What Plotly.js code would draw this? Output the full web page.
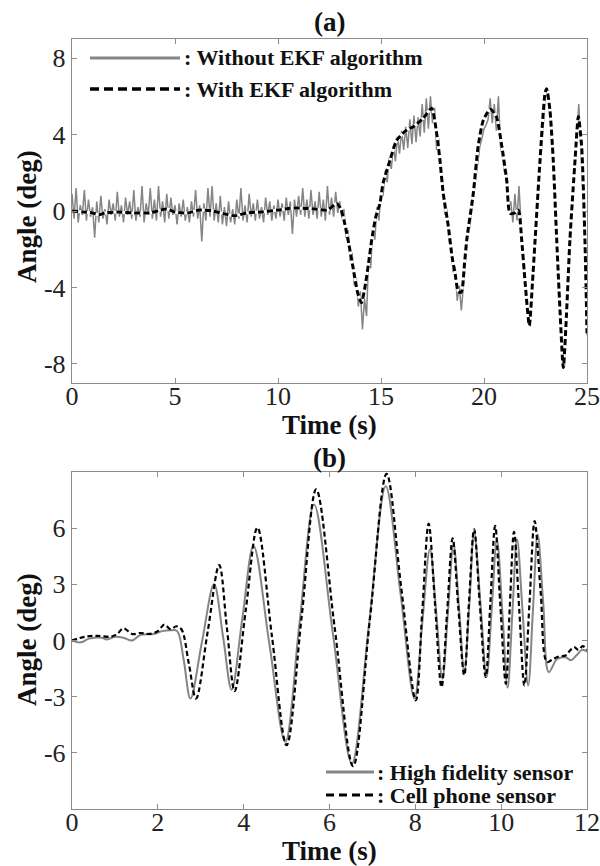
<!DOCTYPE html>
<html>
<head>
<meta charset="utf-8">
<script src="https://cdn.plot.ly/plotly-3.0.1.min.js"></script>
<style>html,body{margin:0;padding:0;background:#fff;}#chart{width:600px;height:866px;}</style>
</head>
<body>
<div id="chart"></div>
<script>
// ---------- Panel (a) data ----------
// raw angle without EKF, sampled every 0.1 s from 0 to 25 s
const aRawV = [
 0.9,-0.4,1.2,-0.6,0.3,-0.2,1.1,-0.5,0.6,-0.3,
 0.2,-1.4,0.5,-0.6,0.8,-0.4,0.1,-0.7,0.6,-0.2,
 0.4,-0.5,1.0,-0.3,0.3,-0.6,0.7,-0.2,0.5,-0.4,
 1.1,-0.5,0.2,-0.3,1.3,-0.6,0.4,-0.2,1.2,-0.4,
 0.6,-0.5,1.3,-0.3,0.5,-0.6,0.9,-0.4,0.7,-0.2,
 0.3,-0.7,0.4,-0.3,0.6,-0.5,0.2,-0.6,0.5,-0.3,
 1.1,-0.4,0.3,-1.6,0.4,-0.5,1.2,-0.3,1.3,-0.5,
 0.4,-0.6,0.8,-0.7,0.2,-0.8,0.5,-0.6,0.1,-0.7,
 0.6,-0.4,1.2,-0.5,0.3,-0.6,0.9,-0.3,0.4,-0.5,
 0.6,-0.4,0.2,-0.6,0.7,-0.2,0.5,-0.5,0.3,-0.4,
 0.6,-0.3,0.4,-0.5,0.7,-0.2,0.5,-1.2,0.6,-0.3,
 0.8,-0.2,1.2,-0.3,0.6,-0.4,1.1,-0.2,0.5,-0.4,
 1.0,-0.3,0.6,-0.5,1.3,-0.2,0.7,-0.3,1.0,-0.1,
 0.5,-0.4,0.1,-1.4,-1.0,-2.6,-2.2,-3.9,-3.5,-5.0,
 -4.2,-6.2,-4.6,-5.5,-2.3,-3.0,-0.9,-1.5,0.2,-0.5,
 1.1,0.8,2.1,1.5,2.8,2.2,3.4,2.6,3.9,3.0,
 4.2,3.2,4.4,3.3,4.8,3.5,5.0,3.6,4.9,3.9,
 5.6,4.1,5.9,4.3,6.0,4.6,5.4,3.2,3.8,1.9,
 1.5,-0.2,0.1,-1.6,-1.7,-3.2,-2.9,-4.7,-3.9,-5.2,
 -3.9,-2.6,-1.4,-0.9,0.0,0.6,1.7,2.5,3.4,3.8,
 4.3,4.5,4.8,5.9,4.6,5.6,4.2,6.0,3.4,2.8,
 2.0,1.9,0.2,0.5,-0.6,0.9,-0.5,1.3,-0.8,-2.8,
 -3.5,-5.3,-5.8,-5.0,-3.1,-1.3,0.3,2.0,3.4,5.0,
 6.2,6.1,5.0,3.4,1.8,-0.9,-3.3,-5.2,-7.4,-8.2,
 -5.9,-3.2,-1.4,0.5,2.0,3.8,5.6,3.6,1.0,-1.6,
 -6.5
];
const aEkfT = [0,0.5,1.0,1.3,1.6,2.2,3.0,3.8,4.3,4.6,5.0,5.6,6.2,6.8,7.4,7.9,8.5,9.2,10.0,10.6,
 11.2,11.8,12.4,12.85,13.05,13.25,13.45,13.65,13.85,14.05,14.25,14.4,14.55,14.75,14.95,15.1,15.44,15.76,16.25,16.57,
 17.05,17.46,17.7,17.86,18.02,18.27,18.45,18.6,18.75,18.9,19.05,19.16,19.48,19.72,19.97,20.3,20.6,20.86,21.1,21.26,
 21.5,21.67,21.83,22.0,22.2,22.35,22.48,22.72,22.96,23.04,23.2,23.36,23.53,23.68,23.85,24.0,24.17,24.42,24.58,24.74,
 24.9,25.0];
const aEkfV = [0,-0.05,-0.1,-0.2,-0.1,-0.05,-0.1,-0.1,0.05,0.1,-0.05,-0.1,0.05,0.0,-0.15,-0.25,-0.1,-0.05,0.05,0.15,
 0.15,0.1,0.05,0.4,0.1,-0.7,-1.8,-3.0,-4.2,-4.8,-3.8,-2.7,-1.5,-0.3,0.4,1.45,2.67,3.7,4.24,4.41,
 4.85,5.38,4.07,2.67,0.93,-0.82,-2.4,-3.3,-4.2,-4.25,-2.8,-1.52,0.93,3.42,4.76,5.32,4.94,3.42,1.62,-0.12,
 -0.1,0.05,-1.52,-3.8,-6.0,-3.8,-1.52,2.67,6.14,6.4,5.29,2.67,-1.52,-5.0,-8.2,-5.5,-1.52,2.67,4.94,3.4,
 -1.52,-6.4];
const aXTicks = [0,5,10,15,20,25];
const aYTicks = [-8,-4,0,4,8];
const aYTickText = ['-8','-4','0','4','8'];

// ---------- Panel (b) data ----------
const bHfT = [0,0.2,0.4,0.7,0.8,1.0,1.2,1.4,1.6,1.9,2.1,2.3,2.45,2.6,2.76,3.03,3.31,3.52,3.72,3.97,
 4.23,4.6,4.97,5.3,5.64,6.08,6.52,6.92,7.31,7.65,7.98,8.16,8.34,8.49,8.63,8.76,8.89,9.02,9.14,9.26,
 9.37,9.52,9.66,9.78,9.9,10.03,10.15,10.26,10.37,10.5,10.63,10.74,10.85,10.98,11.11,11.3,11.5,11.63,11.75,11.89,12.0];
const bHfV = [0,-0.1,0.1,0.15,0.05,0.2,0.15,0.0,0.3,0.35,0.5,0.55,0.5,-1.0,-3.1,-0.05,3.0,0.2,-2.63,1.2,
 5.05,-0.2,-5.41,0.9,7.27,0.35,-6.57,0.85,8.24,2.6,-3.1,0.9,4.88,1.4,-2.04,1.5,5.14,1.7,-1.69,2.0,
 5.8,1.9,-1.95,1.7,5.41,1.45,-2.52,1.45,5.41,1.5,-2.4,1.6,5.67,2.0,-1.69,-1.0,-0.9,-1.05,-0.8,-0.5,-0.6];
const bCellT = [0,0.3,0.6,0.9,1.05,1.2,1.4,1.6,1.8,2.0,2.15,2.3,2.43,2.55,2.72,2.89,3.16,3.43,3.61,3.79,
 4.05,4.32,4.66,5.0,5.35,5.69,6.12,6.55,6.94,7.33,7.67,8.01,8.16,8.31,8.46,8.61,8.74,8.87,9.0,9.14,
 9.25,9.37,9.5,9.64,9.75,9.86,9.98,10.11,10.2,10.3,10.42,10.54,10.66,10.78,10.92,11.07,11.2,11.35,11.5,11.6,
 11.7,11.8,11.9,12.0];
const bCellV = [0,0.2,0.25,0.2,0.35,0.65,0.35,0.4,0.35,0.5,0.85,0.6,0.76,0.6,-1.2,-3.1,0.45,4.03,0.65,-2.7,
 1.65,6.03,0.2,-5.59,1.25,8.07,0.7,-6.71,1.1,8.9,2.85,-3.2,1.5,6.24,1.9,-2.49,1.5,5.46,1.8,-1.86,
 2.05,5.94,2.0,-1.95,2.1,6.12,1.9,-2.31,1.75,5.8,1.7,-2.4,2.0,6.38,2.6,-1.15,-1.0,-0.85,-0.8,-0.55,
 -0.35,-0.5,-0.3,-0.5];
const bXTicks = [0,2,4,6,8,10,12];
const bYTicks = [-6,-3,0,3,6];
const bYTickText = ['-6','-3','0','3','6'];

// ---------- Text ----------
const aLegend = [': Without EKF algorithm', ': With EKF algorithm'];
const bLegend = [': High fidelity sensor', ': Cell phone sensor'];
const panelTitles = ['(a)', '(b)'];
const xTitle = 'Time (s)';
const yTitle = 'Angle (deg)';

// ---------- Styling / layout ----------
const SERIF = '"Liberation Serif", "Times New Roman", serif';
const GRAY = '#858585';
const AXC = '#8c8c8c';
const M = {l:72, r:13, t:39, b:57};
const PW = 600 - M.l - M.r, PH = 866 - M.t - M.b;
const px2x = x => (x - M.l) / PW;
const px2y = y => (866 - M.b - y) / PH;

const traces = [
  {x0:0, dx:0.1, y:aRawV, type:'scatter', mode:'lines', xaxis:'x', yaxis:'y',
   line:{color:GRAY, width:1.5}, name:aLegend[0], showlegend:false},
  {x:aEkfT, y:aEkfV, type:'scatter', mode:'lines', xaxis:'x', yaxis:'y',
   line:{color:'#ffffff', width:3, shape:'spline', smoothing:0.6}, showlegend:false, hoverinfo:'skip'},
  {x:aEkfT, y:aEkfV, type:'scatter', mode:'lines', xaxis:'x', yaxis:'y',
   line:{color:'#000000', width:3, dash:'6px,3px', shape:'spline', smoothing:0.6}, name:aLegend[1], showlegend:false},
  {x:bHfT, y:bHfV, type:'scatter', mode:'lines', xaxis:'x2', yaxis:'y2',
   line:{color:GRAY, width:2, shape:'spline', smoothing:1}, name:bLegend[0], showlegend:false},
  {x:bCellT, y:bCellV, type:'scatter', mode:'lines', xaxis:'x2', yaxis:'y2',
   line:{color:'#000000', width:2.2, dash:'5px,3px', shape:'spline', smoothing:1}, name:bLegend[1], showlegend:false}
];

const TICKFONT = {family:SERIF, size:26, color:'#222'};
function xax(range, ticks, anchor){
  return {domain:[0,1], anchor:anchor, range:range, tickvals:ticks, ticktext:ticks.map(String),
    ticks:'inside', ticklen:5, tickcolor:AXC, tickwidth:1, showline:true, linecolor:AXC, linewidth:1.2,
    mirror:'ticks', showgrid:false, zeroline:false, ticklabelstandoff:-10,
    tickfont:TICKFONT};
}
function yax(domain, ticks, text, anchor){
  return {domain:domain, anchor:anchor, range:[-9,9], tickvals:ticks, ticktext:text,
    ticks:'inside', ticklen:5, tickcolor:AXC, tickwidth:1, showline:true, linecolor:AXC, linewidth:1.2,
    mirror:'ticks', showgrid:false, zeroline:false,
    tickfont:TICKFONT};
}

const aDom = [px2y(383), 1];
const bDom = [0, px2y(472)];

const TFONT = {family:SERIF, size:27, color:'#111'};
const legFont = {family:SERIF, size:22, color:'#111'};
function ann(text, xpx, ypx, xanchor, font, angle){
  return {text:'<b>'+text+'</b>', xref:'paper', yref:'paper', x:px2x(xpx), y:px2y(ypx),
    xanchor:xanchor, yanchor:'middle', showarrow:false, font:font, textangle:angle||0};
}
const annotations = [
  ann(panelTitles[0], 329.5, 22, 'center', TFONT),
  ann(panelTitles[1], 329.5, 458, 'center', TFONT),
  ann(xTitle, 329.5, 425, 'center', TFONT),
  ann(xTitle, 329.5, 851, 'center', TFONT),
  ann(yTitle, 27, 217, 'center', TFONT, -90),
  ann(yTitle, 27, 640, 'center', TFONT, -90),
  ann(aLegend[0], 182, 58, 'left', legFont),
  ann(aLegend[1], 182, 89, 'left', legFont),
  ann(bLegend[0], 375, 772, 'left', legFont),
  ann(bLegend[1], 375, 795, 'left', legFont)
];
const shapes = [
  {type:'line', xref:'paper', yref:'paper', x0:px2x(90), x1:px2x(180), y0:px2y(58), y1:px2y(58), line:{color:GRAY, width:3}},
  {type:'line', xref:'paper', yref:'paper', x0:px2x(90), x1:px2x(180), y0:px2y(89), y1:px2y(89), line:{color:'#000', width:3.5, dash:'9px,5px'}},
  {type:'line', xref:'paper', yref:'paper', x0:px2x(326), x1:px2x(374), y0:px2y(772), y1:px2y(772), line:{color:GRAY, width:3}},
  {type:'line', xref:'paper', yref:'paper', x0:px2x(326), x1:px2x(374), y0:px2y(795), y1:px2y(795), line:{color:'#000', width:3, dash:'8px,5px'}}
];

const layout = {
  width:600, height:866, margin:M, paper_bgcolor:'#fff', plot_bgcolor:'#fff', showlegend:false,
  font:{family:SERIF},
  xaxis: xax([0,25], aXTicks, 'y'),
  yaxis: yax(aDom, aYTicks, aYTickText, 'x'),
  xaxis2: xax([0,12], bXTicks, 'y2'),
  yaxis2: yax(bDom, bYTicks, bYTickText, 'x2'),
  annotations: annotations,
  shapes: shapes
};

Plotly.newPlot('chart', traces, layout, {staticPlot:true, displayModeBar:false});
</script>
</body>
</html>
